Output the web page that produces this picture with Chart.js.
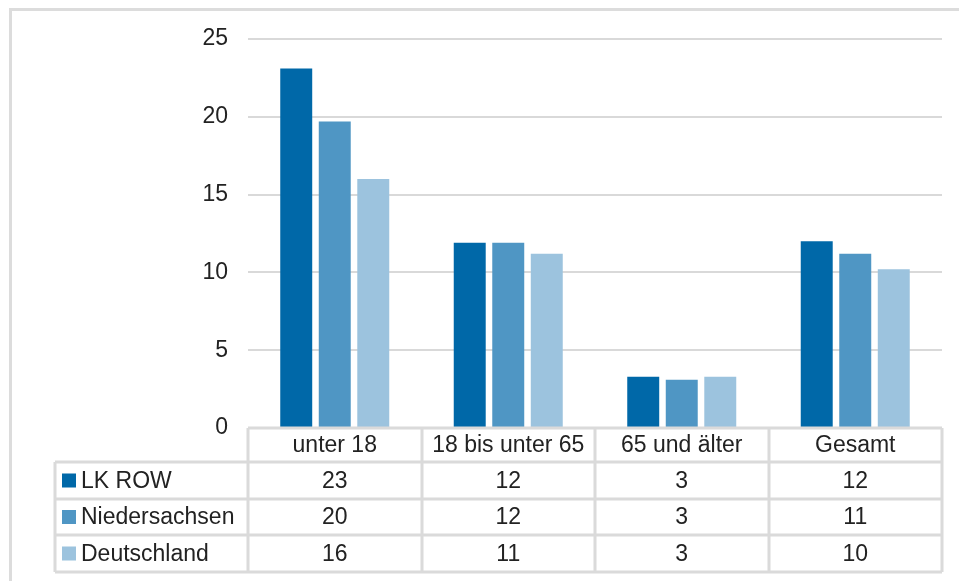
<!DOCTYPE html>
<html>
<head>
<meta charset="utf-8">
<script src="https://cdn.jsdelivr.net/npm/chart.js@4"></script>
<style>
  body { margin: 0; background: #fff; }
  #wrap { position: relative; width: 959px; height: 581px; overflow: hidden; }
  #frame { position: absolute; left: 9px; top: 8px; width: 1000px; height: 700px;
           border-top: 3px solid #dcdcdc; border-left: 3px solid #dcdcdc; }
  canvas { position: absolute; left: 0; top: 0; }
</style>
</head>
<body>
<div id="wrap">
  <div id="frame"></div>
  <canvas id="chart" width="959" height="581"></canvas>
</div>
<script>
const categories = ['unter 18', '18 bis unter 65', '65 und älter', 'Gesamt'];
const lkRow = [23.1, 11.9, 3.3, 12.0];
const niedersachsen = [19.7, 11.9, 3.1, 11.2];
const deutschland = [16.0, 11.2, 3.3, 10.2];
const yTicks = [0, 5, 10, 15, 20, 25];

const FONT = '"Liberation Sans", Arial, sans-serif';
const TEXT = '#222';

// Datentabelle unter dem Diagramm
const dataTable = {
    id: 'dataTable',
    afterDraw(chart) {
        const ctx = chart.ctx;
        const x = chart.scales.x;
        const area = chart.chartArea;
        const edges = [area.left];
        for (let i = 0; i < categories.length - 1; i++) {
            edges.push(Math.round((x.getPixelForValue(i) + x.getPixelForValue(i + 1)) / 2));
        }
        edges.push(area.right);
        const top = area.bottom;
        const rows = [top + 34, top + 71, top + 107, top + 144];
        const legendLeft = 55;

        ctx.save();
        ctx.strokeStyle = '#dadada';
        ctx.lineWidth = 3;
        ctx.beginPath();
        ctx.moveTo(area.left, top);
        ctx.lineTo(area.right, top);
        rows.forEach(y => {
            ctx.moveTo(legendLeft, y);
            ctx.lineTo(area.right, y);
        });
        edges.forEach(ex => {
            ctx.moveTo(ex, top);
            ctx.lineTo(ex, rows[3]);
        });
        ctx.moveTo(legendLeft, rows[0]);
        ctx.lineTo(legendLeft, rows[3]);
        ctx.stroke();

        ctx.font = '23px ' + FONT;
        ctx.textBaseline = 'middle';
        chart.data.datasets.forEach((ds, r) => {
            const cy = (rows[r] + rows[r + 1]) / 2;
            ctx.fillStyle = ds.backgroundColor;
            ctx.fillRect(62, cy - 7, 14, 14);
            ctx.fillStyle = TEXT;
            ctx.textAlign = 'left';
            ctx.fillText(ds.label, 81, cy + 1);
            ctx.textAlign = 'center';
            ds.data.forEach((v, i) => {
                ctx.fillText(String(Math.round(v)), x.getPixelForValue(i), cy + 1);
            });
        });
        ctx.restore();
    }
};

const chartConfig = {
    type: 'bar',
    data: {
        labels: categories,
        datasets: [
            { label: 'LK ROW', data: lkRow, backgroundColor: '#0068a8' },
            { label: 'Niedersachsen', data: niedersachsen, backgroundColor: '#4f96c4' },
            { label: 'Deutschland', data: deutschland, backgroundColor: '#9cc3de' }
        ]
    },
    options: {
        responsive: false,
        animation: false,
        devicePixelRatio: 1,
        layout: {
            padding: { top: 39, right: 17, bottom: 0, left: 0 }
        },
        datasets: {
            bar: {
                barPercentage: 0.83,
                categoryPercentage: 0.666,
                borderWidth: 0
            }
        },
        scales: {
            x: {
                grid: { display: false, drawTicks: false },
                border: { display: false },
                ticks: {
                    color: TEXT,
                    padding: 4,
                    maxRotation: 0,
                    autoSkip: false,
                    font: { family: FONT, size: 23 }
                },
                afterFit: (scale) => { scale.height = 153; }
            },
            y: {
                min: 0,
                max: 25,
                z: 1,
                afterBuildTicks: (scale) => {
                    scale.ticks = yTicks.map(v => ({ value: v }));
                },
                grid: {
                    color: 'rgba(0,0,0,0.15)',
                    lineWidth: 2,
                    drawTicks: false
                },
                border: { display: false },
                ticks: {
                    color: TEXT,
                    padding: 20,
                    font: { family: FONT, size: 23 }
                },
                afterFit: (scale) => { scale.width = 248; }
            }
        },
        plugins: {
            legend: { display: false },
            tooltip: { enabled: false },
            title: { display: false }
        }
    },
    plugins: [dataTable]
};

new Chart(document.getElementById('chart').getContext('2d'), chartConfig);
</script>
</body>
</html>
